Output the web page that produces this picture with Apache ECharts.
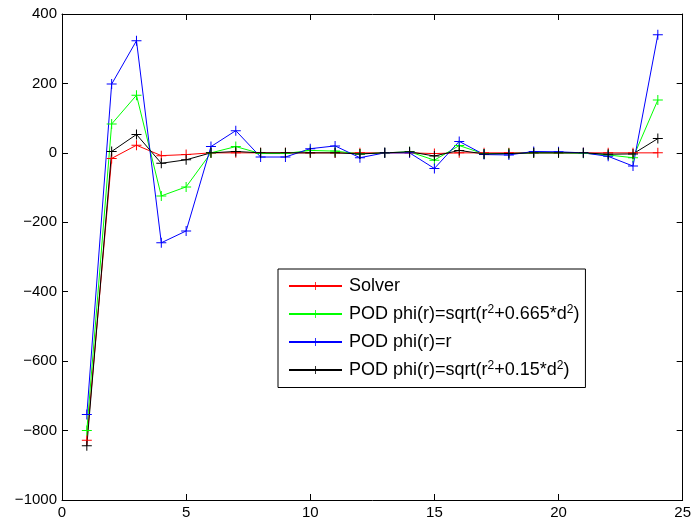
<!DOCTYPE html>
<html>
<head>
<meta charset="utf-8">
<script src="https://cdn.jsdelivr.net/npm/echarts@6/dist/echarts.min.js"></script>
<style>html,body{margin:0;padding:0;background:#fff}#c{width:694px;height:527px}</style>
</head>
<body>
<div id="c"></div>
<script>
const xs = [1,2,3,4,5,6,7,8,9,10,11,12,13,14,15,16,17,18,19,20,21,22,23,24];
const solver = [-828,-16,22,-8,-5,0,0,0,0,0,0,0,0,0,-2,0,0,0,0,0,0,0,0,0];
const pod665 = [-800,83,166,-124,-98,0,18,-2,-2,7,5,-3,0,3,-21,21,-3,-2,0,0,-1,-6,-14,152];
const podR = [-754,198,323,-259,-225,18,64,-12,-12,12,20,-14,0,0,-45,33,-5,-6,4,3,0,-10,-38,340];
const pod15 = [-844,4,53,-30,-20,0,4,0,0,0,0,-3,0,3,-9,7,-3,-2,0,0,0,-4,-3,41];
const seriesNames = ['Solver','POD phi(r)=sqrt(r2+0.665*d2)','POD phi(r)=r','POD phi(r)=sqrt(r2+0.15*d2)'];
const colors = ['#ff0000','#00ff00','#0000ff','#000000'];
const xTicks = {min:0,max:25,interval:5};
const yTicks = {min:-1000,max:400,interval:200};

const plus = 'path://M4.5,0H5.5V4.5H10V5.5H5.5V10H4.5V5.5H0V4.5H4.5Z';
const FONT = '"Liberation Sans", Arial, Helvetica, sans-serif';
const datasets = [solver,pod665,podR,pod15];
const series = datasets.map((d,i)=>({
  name: seriesNames[i],
  type:'line',
  data: xs.map((x,j)=>[x,d[j]]),
  symbol: plus,
  symbolSize: 10,
  showSymbol: true,
  lineStyle:{color:colors[i],width:1},
  itemStyle:{color:colors[i]},
  animation:false
}));

function fmt(name){
  if(name.indexOf('sqrt')<0) return '{a|'+name+'}';
  const m = name.match(/^(.*r)2(\+[\d.]+\*d)2(\))$/);
  return '{a|'+m[1]+'}{s|2}{a|'+m[2]+'}{s|2}{a|'+m[3]+'}';
}

const axisCommon = {
  axisLine:{show:true,onZero:false,lineStyle:{color:'#000',width:1}},
  axisTick:{show:true,inside:true,length:6,lineStyle:{color:'#000'}},
  splitLine:{show:false}
};

const chart = echarts.init(document.getElementById('c'));
chart.setOption({
  backgroundColor:'#fff',
  animation:false,
  grid:{left:62,right:11,top:14,bottom:27},
  xAxis:[
    Object.assign({type:'value',position:'bottom',min:xTicks.min,max:xTicks.max,interval:xTicks.interval,
      axisLabel:{color:'#000',fontFamily:FONT,fontSize:15,margin:5}},axisCommon),
    Object.assign({type:'value',position:'top',min:xTicks.min,max:xTicks.max,interval:xTicks.interval,
      axisLabel:{show:false}},axisCommon)
  ],
  yAxis:[
    Object.assign({type:'value',position:'left',min:yTicks.min,max:yTicks.max,interval:yTicks.interval,
      axisLabel:{color:'#000',fontFamily:FONT,fontSize:15,margin:5,
        formatter:v=>String(v).replace('-','\u2212')}},axisCommon),
    Object.assign({type:'value',position:'right',min:yTicks.min,max:yTicks.max,interval:yTicks.interval,
      axisLabel:{show:false}},axisCommon)
  ],
  legend:{
    orient:'vertical',
    left:278, top:269,
    padding:[8,6,7,10],
    itemGap:8.5,
    itemWidth:53,
    itemHeight:10,
    backgroundColor:'#fff',
    borderColor:'#000',
    borderWidth:1,
    borderRadius:0,
    data: seriesNames.map(n=>({name:n})),
    formatter: fmt,
    textStyle:{
      color:'#000',fontFamily:FONT,fontSize:18,padding:[0,0,0,2],
      rich:{
        a:{fontFamily:FONT,fontSize:18,color:'#000',lineHeight:22},
        s:{fontFamily:FONT,fontSize:12,color:'#000',padding:[0,0,9,0],lineHeight:22}
      }
    }
  },
  series: series
});
</script>
</body>
</html>
